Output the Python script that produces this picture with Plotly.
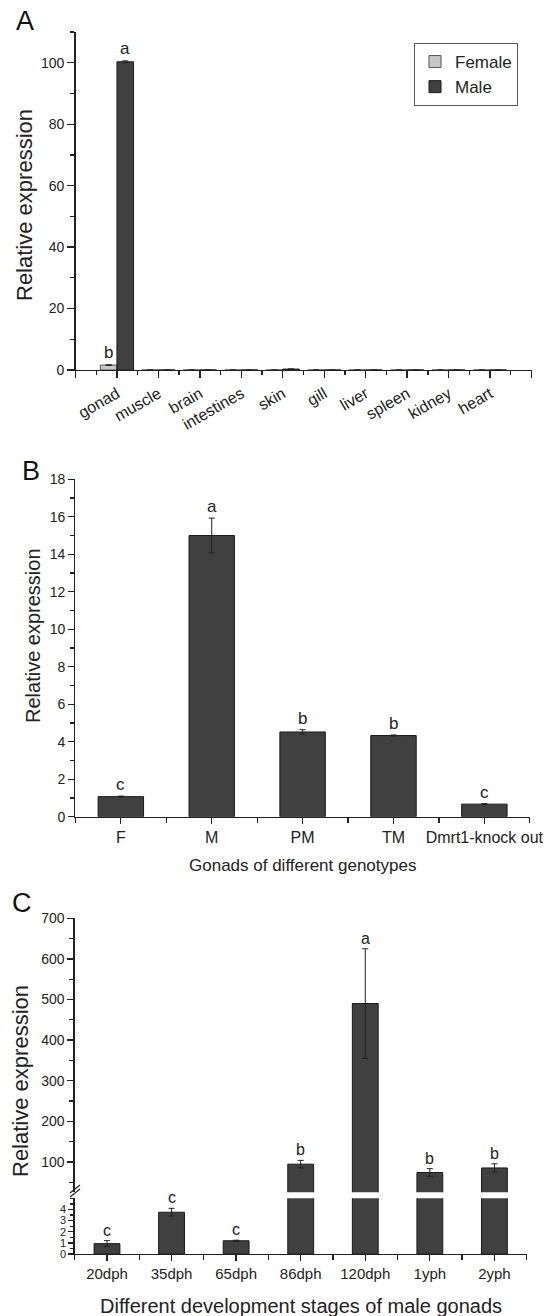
import plotly.graph_objects as go

W, H = 550, 1316
FONT = "Arial, 'Liberation Sans', sans-serif"
INK = "#222222"
DARK = "#404040"
LIGHT = "#c8c8c8"

# ---------------- Panel A data ----------------
tissues = ["gonad", "muscle", "brain", "intestines", "skin", "gill", "liver", "spleen", "kidney", "heart"]
female_expr = [1.6, 0, 0, 0, 0, 0, 0, 0, 0, 0]
female_err = [0.1, 0, 0, 0, 0, 0, 0, 0, 0, 0]
male_expr = [100.3, 0, 0, 0, 0.3, 0, 0, 0, 0, 0]
male_err = [0.3, 0, 0, 0, 0.02, 0, 0, 0, 0, 0]
female_letters = ["b", "", "", "", "", "", "", "", "", ""]
male_letters = ["a", "", "", "", "", "", "", "", "", ""]

# ---------------- Panel B data ----------------
genotypes = ["F", "M", "PM", "TM", "Dmrt1-knock out"]
expr_B = [1.07, 15.0, 4.52, 4.33, 0.67]
err_B = [0.03, 0.93, 0.12, 0.03, 0.03]
letters_B = ["c", "a", "b", "b", "c"]

# ---------------- Panel C data ----------------
stages = ["20dph", "35dph", "65dph", "86dph", "120dph", "1yph", "2yph"]
expr_C = [0.93, 3.75, 1.19, 94.3, 490.0, 73.7, 85.0]
err_C = [0.27, 0.35, 0.05, 9.3, 135.0, 9.5, 10.2]
letters_C = ["c", "c", "c", "b", "a", "b", "b"]
low_ticks = [0, 1, 2, 3, 4]
up_ticks = [100, 200, 300, 400, 500, 600, 700]

LOW_MAX = 5
UP_MIN = 25
UP_MAX = 700


def px_x(p):
    return p / W


def px_y(p):
    return 1 - p / H


fig = go.Figure()

err_style = dict(type="data", color=INK, thickness=1, width=3, visible=True)

# Panel A bars
xa = list(range(len(tissues)))
fig.add_trace(go.Bar(x=xa, y=female_expr, width=0.4, offset=-0.4, name="Female",
                     marker=dict(color=LIGHT, line=dict(color="#555555", width=1)),
                     error_y=dict(array=female_err, **err_style),
                     xaxis="x", yaxis="y", showlegend=True))
fig.add_trace(go.Bar(x=xa, y=male_expr, width=0.4, offset=0, name="Male",
                     marker=dict(color=DARK, line=dict(color="#1a1a1a", width=1)),
                     error_y=dict(array=male_err, **err_style),
                     xaxis="x", yaxis="y", showlegend=True))

# Panel B bars
xb = list(range(len(genotypes)))
fig.add_trace(go.Bar(x=xb, y=expr_B, width=0.5,
                     marker=dict(color=DARK, line=dict(color="#1a1a1a", width=1)),
                     error_y=dict(array=err_B, **err_style),
                     xaxis="x2", yaxis="y2", showlegend=False))

# Panel C bars (broken axis: lower and upper segments)
xc = list(range(len(stages)))
for ya in ["y3", "y4"]:
    fig.add_trace(go.Bar(x=xc, y=expr_C, width=0.4,
                         marker=dict(color=DARK, line=dict(color="#1a1a1a", width=1)),
                         error_y=dict(array=err_C, **err_style),
                         xaxis="x3", yaxis=ya, showlegend=False))

annotations = []

# significance letters
for i in xa:
    if female_letters[i]:
        annotations.append(dict(x=i - 0.2, y=female_expr[i] + female_err[i], xref="x", yref="y",
                                text=female_letters[i], showarrow=False, yanchor="bottom",
                                yshift=1, font=dict(size=17, color=INK, family=FONT)))
    if male_letters[i]:
        annotations.append(dict(x=i + 0.2, y=male_expr[i] + male_err[i], xref="x", yref="y",
                                text=male_letters[i], showarrow=False, yanchor="bottom",
                                yshift=1, font=dict(size=17, color=INK, family=FONT)))
for i in xb:
    annotations.append(dict(x=i, y=expr_B[i] + err_B[i], xref="x2", yref="y2",
                            text=letters_B[i], showarrow=False, yanchor="bottom", yshift=0,
                            font=dict(size=17, color=INK, family=FONT)))
for i in xc:
    top = expr_C[i] + err_C[i]
    yref = "y3" if top <= LOW_MAX else "y4"
    annotations.append(dict(x=i, y=top, xref="x3", yref=yref,
                            text=letters_C[i], showarrow=False, yanchor="bottom", yshift=0,
                            font=dict(size=16, color=INK, family=FONT)))

# panel letters
for txt, (px, py) in {"A": (25, 21), "B": (31, 471), "C": (22, 903)}.items():
    annotations.append(dict(x=px_x(px), y=px_y(py), xref="paper", yref="paper", text=txt,
                            showarrow=False, xanchor="center", yanchor="middle",
                            font=dict(size=27, color="#111111", family=FONT)))

# axis titles
for txt, (px, py), sz, ang in [
    ("Relative expression", (25, 205), 22, -90),
    ("Relative expression", (33, 636), 20, -90),
    ("Relative expression", (20, 1081), 22, -90),
    ("Gonads of different genotypes", (302, 865), 17, 0),
    ("Different development stages of male gonads", (301, 1306), 20, 0),
]:
    annotations.append(dict(x=px_x(px), y=px_y(py), xref="paper", yref="paper", text=txt,
                            showarrow=False, xanchor="center", yanchor="middle", textangle=ang,
                            font=dict(size=sz, color=INK, family=FONT)))

axis_common = dict(showline=True, linecolor=INK, linewidth=1.3, ticks="outside",
                   tickcolor=INK, tickwidth=1.3, showgrid=False, zeroline=False,
                   automargin=False)

# Panel A axes
fig.update_layout(
    xaxis=dict(domain=[px_x(75.5), px_x(531.5)], anchor="y", range=[-1, len(tissues)],
               tickmode="array", tickvals=list(range(-1, len(tissues) + 1)),
               ticktext=[""] + tissues + [""], tickangle=-30, ticklen=7,
               minor=dict(tickmode="array", tickvals=[i + 0.5 for i in range(-1, len(tissues))],
                          ticks="outside", ticklen=4, tickcolor=INK, tickwidth=1.3),
               tickfont=dict(family=FONT, color=INK, size=16), **axis_common),
    yaxis=dict(domain=[px_y(370), px_y(32)], anchor="x", range=[0, 110],
               tickmode="linear", tick0=0, dtick=20, ticklen=7,
               minor=dict(dtick=10, ticks="outside", ticklen=4, tickcolor=INK, tickwidth=1.3),
               tickfont=dict(family=FONT, color=INK, size=14), **axis_common),
)

# Panel B axes
fig.update_layout(
    xaxis2=dict(domain=[px_x(75.4), px_x(529.8)], anchor="y2", range=[-0.5, len(genotypes) - 0.5],
                tickmode="array", tickvals=xb, ticktext=genotypes, ticklen=6,
                minor=dict(tickmode="array", tickvals=[i - 0.5 for i in range(len(genotypes) + 1)],
                           ticks="outside", ticklen=5, tickcolor=INK, tickwidth=1.3),
                tickfont=dict(family=FONT, color=INK, size=16), **axis_common),
    yaxis2=dict(domain=[px_y(816.7), px_y(479.3)], anchor="x2", range=[0, 18],
                tickmode="linear", tick0=0, dtick=2, ticklen=6,
                minor=dict(dtick=1, ticks="outside", ticklen=4, tickcolor=INK, tickwidth=1.3),
                tickfont=dict(family=FONT, color=INK, size=14), **axis_common),
)

# Panel C axes
fig.update_layout(
    xaxis3=dict(domain=[px_x(74.7), px_x(526.7)], anchor="y3", range=[-0.5, len(stages) - 0.5],
                tickmode="array", tickvals=xc, ticktext=stages, ticklen=6,
                minor=dict(tickmode="array", tickvals=[i - 0.5 for i in range(len(stages) + 1)],
                           ticks="outside", ticklen=5, tickcolor=INK, tickwidth=1.3),
                tickfont=dict(family=FONT, color=INK, size=15), **axis_common),
    yaxis3=dict(domain=[px_y(1254), px_y(1198.3)], anchor="x3", range=[0, LOW_MAX],
                tickmode="array", tickvals=low_ticks, ticklen=5,
                minor=dict(dtick=0.5, ticks="outside", ticklen=3, tickcolor=INK, tickwidth=1.3),
                tickfont=dict(family=FONT, color=INK, size=11), **axis_common),
    yaxis4=dict(domain=[px_y(1192.3), px_y(918.3)], anchor="x3", range=[UP_MIN, UP_MAX],
                tickmode="array", tickvals=up_ticks, ticklen=6,
                minor=dict(tick0=0, dtick=50, ticks="outside", ticklen=4, tickcolor=INK, tickwidth=1.3),
                tickfont=dict(family=FONT, color=INK, size=14), **axis_common),
)

# axis break marks
shapes = []
for dy in (0, 4):
    shapes.append(dict(type="line", xref="paper", yref="paper",
                       x0=px_x(70), y0=px_y(1197 + dy - 4), x1=px_x(80), y1=px_y(1189 + dy - 4),
                       line=dict(color=INK, width=1.3)))

fig.update_layout(
    width=W, height=H,
    margin=dict(l=0, r=0, t=0, b=0, pad=0),
    paper_bgcolor="white", plot_bgcolor="white",
    barmode="overlay",
    font=dict(family=FONT, color=INK),
    annotations=annotations,
    shapes=shapes,
    legend=dict(x=px_x(414), y=px_y(43), xanchor="left", yanchor="top",
                bordercolor="#555555", borderwidth=1, bgcolor="white",
                font=dict(size=17, family=FONT, color=INK), tracegroupgap=0),
)

fig.write_html(
    "out.html",
    config={"displayModeBar": False, "staticPlot": True},
    post_script="document.body.style.margin='0';document.body.style.padding='0';"
                "document.documentElement.style.overflow='hidden';",
)
